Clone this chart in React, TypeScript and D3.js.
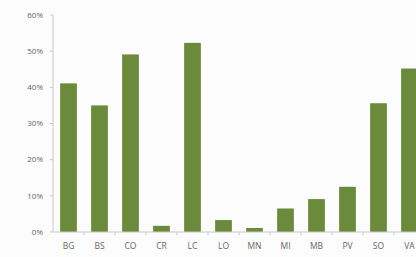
import React from "react";
import * as d3 from "d3";

const categories = ["BG", "BS", "CO", "CR", "LC", "LO", "MN", "MI", "MB", "PV", "SO", "VA"];
const values = [0.411, 0.35, 0.491, 0.017, 0.523, 0.033, 0.011, 0.065, 0.091, 0.125, 0.356, 0.452];
const yTicks = [0, 0.1, 0.2, 0.3, 0.4, 0.5, 0.6];

const App: React.FC = () => {
  const width = 416;
  const height = 257;
  const margin = { top: 15, right: 0, bottom: 25, left: 53 };
  const plotBottom = height - margin.bottom;

  const x = d3
    .scaleBand<string>()
    .domain(categories)
    .range([margin.left, margin.left + 31 * categories.length])
    .paddingInner(0.46)
    .paddingOuter(0.23);

  const y = d3.scaleLinear().domain([0, 0.6]).range([plotBottom, margin.top]);
  const fmt = d3.format(".0%");

  return (
    <svg
      width={width}
      height={height}
      style={{ position: "absolute", left: 0, top: 0, background: "#fcfcfc" }}
      fontFamily="'Open Sans', sans-serif"
    >
      {/* y axis */}
      <line x1={margin.left} x2={margin.left} y1={y(0.6)} y2={plotBottom} stroke="#c8c8c8" />
      {yTicks.map((t) => (
        <g key={t}>
          <line x1={margin.left - 3} x2={margin.left} y1={y(t)} y2={y(t)} stroke="#c8c8c8" />
          <text x={margin.left - 10} y={y(t)} dy="0.35em" textAnchor="end" fontSize={8} fill="#666">
            {fmt(t)}
          </text>
        </g>
      ))}

      {/* bars */}
      {categories.map((c, i) => (
        <rect
          key={c}
          x={x(c)}
          y={y(values[i])}
          width={x.bandwidth()}
          height={plotBottom - y(values[i])}
          fill="#6b8a3b"
        />
      ))}

      {/* x axis */}
      <line x1={margin.left} x2={width} y1={plotBottom} y2={plotBottom} stroke="#c8c8c8" />
      {categories.map((c, i) => (
        <line
          key={"t" + c}
          x1={margin.left + 31 * (i + 1)}
          x2={margin.left + 31 * (i + 1)}
          y1={plotBottom}
          y2={plotBottom + 3}
          stroke="#c8c8c8"
        />
      ))}
      {categories.map((c) => (
        <text
          key={"l" + c}
          x={(x(c) ?? 0) + x.bandwidth() / 2}
          y={plotBottom + 17}
          textAnchor="middle"
          fontSize={8.5}
          fill="#666"
        >
          {c}
        </text>
      ))}
    </svg>
  );
};

export default App;
